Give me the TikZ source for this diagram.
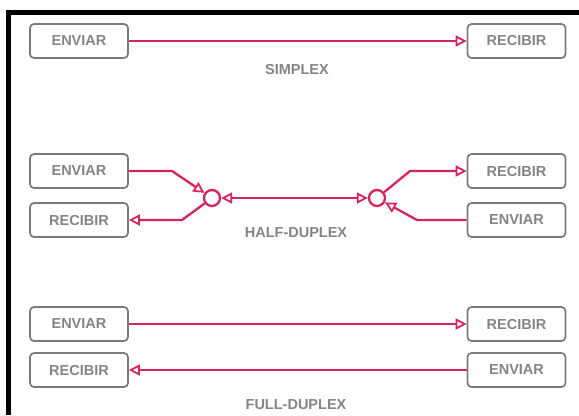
\documentclass[tikz,border=0pt]{standalone}
\usepackage{fontspec}
\setmainfont{Liberation Sans}
\usetikzlibrary{arrows.meta}
\definecolor{linkred}{HTML}{D6245E}
\definecolor{boxgray}{HTML}{7A7A7A}
\definecolor{txtgray}{HTML}{858585}
\tikzset{opentip/.tip={Triangle[open,length=11bp,width=11bp,line width=1.8bp]}}
\begin{document}
\begin{tikzpicture}[x=1bp,y=-1bp,
  box/.style={draw=boxgray,line width=1.7bp,rounded corners=4bp,minimum width=98bp,minimum height=34bp,inner sep=0pt,text=txtgray,font=\fontsize{14.5bp}{16bp}\selectfont\bfseries},
  lbl/.style={text=txtgray,inner sep=0pt,font=\fontsize{14.5bp}{16bp}\selectfont\bfseries},
  link/.style={draw=linkred,line width=2.3bp},
  tip/.style={-opentip},
  hub/.style={circle,draw=linkred,line width=2.3bp,minimum size=16bp,inner sep=0pt}]
\useasboundingbox (0,0) rectangle (579,415);
\fill[white] (0,0) rectangle (579,415);
\draw[line width=4.5bp,black] (8.5,415) -- (8.5,12.5) -- (579,12.5);
% simplex
\node[box] (s1) at (79,41) {ENVIAR};
\node[box] (s2) at (516.5,41) {RECIBIR};
\node[lbl] (sl) at (297,70) {SIMPLEX};
\draw[link,tip] (s1) -- (s2);
% half duplex
\node[box] (h1) at (79,171) {ENVIAR};
\node[box] (h2) at (79,220) {RECIBIR};
\node[box] (h3) at (516.5,171) {RECIBIR};
\node[box] (h4) at (516.5,220) {ENVIAR};
\node[hub] (cl) at (212,198) {};
\node[hub] (cr) at (377,198) {};
\node[lbl] (hl) at (296,233) {HALF-DUPLEX};
\coordinate (b1) at (172,171);
\coordinate (b2) at (182,220);
\coordinate (b3) at (410,171);
\coordinate (b4) at (417,220);
\draw[link,tip] (h1.east) -- (b1) -- (cl);
\draw[link,tip] (cl) -- (b2) -- (h2.east);
\draw[link,opentip-opentip] (cl) -- (cr);
\draw[link,tip] (cr) -- (b3) -- (h3.west);
\draw[link,tip] (h4.west) -- (b4) -- (cr);
% full duplex
\node[box] (f1) at (79,324) {ENVIAR};
\node[box] (f2) at (79,370) {RECIBIR};
\node[box] (f3) at (516.5,324) {RECIBIR};
\node[box] (f4) at (516.5,370) {ENVIAR};
\node[lbl] (fl) at (296,405) {FULL-DUPLEX};
\draw[link,tip] (f1) -- (f3);
\draw[link,tip] (f4) -- (f2);
\end{tikzpicture}
\end{document}
